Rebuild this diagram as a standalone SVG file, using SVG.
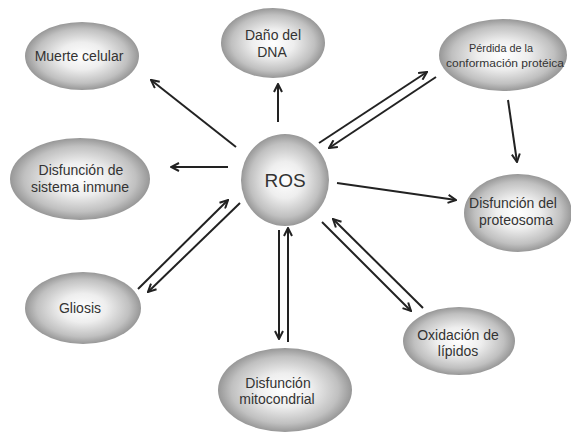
<svg xmlns="http://www.w3.org/2000/svg" width="571" height="432" viewBox="0 0 571 432">
<style>
.n{fill:url(#g)}
.t{font-family:"Liberation Sans",Arial,sans-serif;fill:#333;text-anchor:middle;font-size:14px}
.s{font-size:10.5px}
.r{font-size:19px}
.c line{stroke:#222;stroke-width:2;marker-end:url(#a)}
</style>
<defs>
<radialGradient id="g" cx="50%" cy="50%" r="50%">
<stop offset="0" stop-color="#ffffff"/>
<stop offset="0.4" stop-color="#eeeeee"/>
<stop offset="0.8" stop-color="#c0c0c0"/>
<stop offset="1" stop-color="#979797"/>
</radialGradient>
<marker id="a" viewBox="0 0 10 10" refX="9" refY="5" markerWidth="5" markerHeight="5" orient="auto" markerUnits="strokeWidth">
<path d="M1,1 L9,5 L1,9" fill="none" stroke="#222" stroke-width="2"/>
</marker>
</defs>
<rect width="571" height="432" fill="#fff"/>
<g class="c" id="connectors">
<line x1="236" y1="147" x2="151" y2="80"/>
<line x1="278" y1="122" x2="278" y2="84"/>
<line x1="228" y1="167" x2="171" y2="167"/>
<line x1="319" y1="143" x2="427" y2="72"/>
<line x1="436" y1="77" x2="329" y2="148"/>
<line x1="508" y1="100" x2="517" y2="162"/>
<line x1="337" y1="183" x2="456" y2="200"/>
<line x1="138" y1="289" x2="228" y2="200"/>
<line x1="240" y1="203" x2="148" y2="292"/>
<line x1="279" y1="230" x2="279" y2="339"/>
<line x1="288" y1="342" x2="288" y2="228"/>
<line x1="322" y1="222" x2="411" y2="311"/>
<line x1="423" y1="308" x2="333" y2="219"/>
</g>
<g id="muerte"><ellipse class="n" cx="82" cy="56" rx="57" ry="34"/><text class="t" x="79" y="61">Muerte celular</text></g>
<g id="dano"><ellipse class="n" cx="273" cy="43" rx="52" ry="35"/><text class="t" x="273" y="40">Daño del</text><text class="t" x="272" y="57">DNA</text></g>
<g id="perdida"><ellipse class="n" cx="503" cy="55" rx="64" ry="36"/><text class="t s" x="501" y="52" textLength="64" lengthAdjust="spacingAndGlyphs">Pérdida de la</text><text class="t s" x="505" y="67" textLength="118" lengthAdjust="spacingAndGlyphs">conformación protéica</text></g>
<g id="inmune"><ellipse class="n" cx="80" cy="179" rx="70" ry="41"/><text class="t" x="81" y="175">Disfunción de</text><text class="t" x="80" y="192">sistema inmune</text></g>
<g id="ros"><ellipse class="n" cx="285" cy="180" rx="44" ry="46"/><text class="t r" x="285" y="187">ROS</text></g>
<g id="proteosoma"><ellipse class="n" cx="518" cy="213" rx="54" ry="39"/><text class="t" x="513" y="208">Disfunción del</text><text class="t" x="516" y="225">proteosoma</text></g>
<g id="gliosis"><ellipse class="n" cx="83" cy="308" rx="58" ry="36"/><text class="t" x="80" y="313">Gliosis</text></g>
<g id="mitocondrial"><ellipse class="n" cx="285" cy="390" rx="67" ry="42"/><text class="t" x="278" y="388">Disfunción</text><text class="t" x="277" y="404">mitocondrial</text></g>
<g id="lipidos"><ellipse class="n" cx="459" cy="341" rx="56" ry="34"/><text class="t" x="458" y="340">Oxidación de</text><text class="t" x="458" y="356">lípidos</text></g>
</svg>
